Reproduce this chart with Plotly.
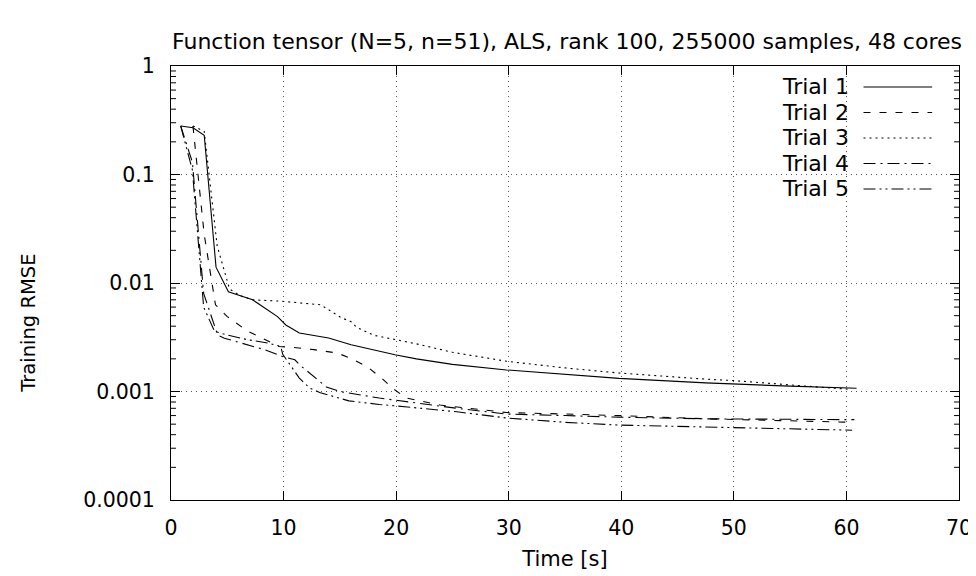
import plotly.graph_objects as go

# ---- data ----
t1 = [0.86, 1.95, 2.95, 4.0, 5.1, 7.25, 9.46, 10.2, 11.4, 14.0, 16.0, 19.9, 21.8, 25.0, 29.8, 35.0, 39.8, 47.5, 50.0, 55.0, 60.9]
y1 = [0.28, 0.27, 0.23, 0.014, 0.0083, 0.0070, 0.0049, 0.0041, 0.00346, 0.00311, 0.0027, 0.00218, 0.0020, 0.00178, 0.00158, 0.00144, 0.00132, 0.0012, 0.00117, 0.00112, 0.00107]

t2 = [1.95, 2.95, 3.95, 5.0, 6.8, 8.6, 9.6, 10.9, 12.7, 14.8, 15.9, 17.4, 18.7, 19.8, 20.9, 23.9, 29.8, 35.0, 39.8, 47.5, 55.0, 60.7]
y2 = [0.28, 0.028, 0.0063, 0.0049, 0.0036, 0.0029, 0.0026, 0.00255, 0.00243, 0.00226, 0.00203, 0.0017, 0.00133, 0.00105, 0.00087, 0.00075, 0.00064, 0.00062, 0.0006, 0.00056, 0.00054, 0.00052]

t3 = [1.95, 2.95, 4.1, 5.2, 6.2, 7.25, 9.75, 12.4, 13.3, 14.2, 15.1, 16.0, 16.5, 18.0, 19.9, 21.8, 25.0, 29.8, 35.0, 39.8, 47.5, 50.0, 55.0, 60.1]
y3 = [0.28, 0.25, 0.022, 0.0088, 0.0076, 0.0070, 0.0068, 0.0065, 0.0063, 0.0055, 0.0048, 0.0044, 0.0039, 0.0033, 0.0030, 0.00275, 0.0023, 0.0019, 0.00165, 0.00148, 0.0013, 0.00126, 0.00115, 0.00105]

t4 = [0.86, 1.9, 2.9, 4.15, 4.74, 8.3, 9.9, 11.0, 11.4, 12.3, 13.2, 13.8, 15.0, 18.5, 25.4, 29.8, 35.0, 39.8, 47.5, 60.7]
y4 = [0.28, 0.13, 0.008, 0.0033, 0.0031, 0.00243, 0.0021, 0.00196, 0.00177, 0.00148, 0.00124, 0.0011, 0.001, 0.00087, 0.0007, 0.00062, 0.0006, 0.00058, 0.00056, 0.00055]

t5 = [0.86, 1.9, 2.9, 3.86, 4.6, 6.8, 8.6, 9.75, 9.93, 11.4, 12.3, 13.2, 15.8, 18.5, 21.0, 25.4, 29.8, 35.0, 39.8, 47.5, 60.5]
y5 = [0.28, 0.11, 0.006, 0.0036, 0.0034, 0.0030, 0.0028, 0.0026, 0.0022, 0.00133, 0.00108, 0.00098, 0.00082, 0.00076, 0.00072, 0.00065, 0.00057, 0.00052, 0.00049, 0.00047, 0.00044]

names = ["Trial 1", "Trial 2", "Trial 3", "Trial 4", "Trial 5"]
dashes = ["solid", "7px,9px", "2px,4px", "12px,5px,2px,5px", "12px,4px,2px,4px,2px,4px"]

x_ticks = [0, 10, 20, 30, 40, 50, 60, 70]
y_minor = [m * 10.0 ** e for e in range(-4, 0) for m in range(2, 10)]

title = "Function tensor (N=5, n=51), ALS, rank 100, 255000 samples, 48 cores"

FONT = "DejaVu Sans"
TICK_FS = 20.5
fig = go.Figure()
series = [(t1, y1), (t2, y2), (t3, y3), (t4, y4), (t5, y5)]
for (t, y), nm, d in zip(series, names, dashes):
    fig.add_trace(go.Scatter(x=t, y=y, mode="lines", name=nm,
                             line=dict(color="black", width=1.1, dash=d),
                             showlegend=False))

L, R, top, bottom = 163, 955, 58, 492
W = R - L
def px(xp):
    return (xp - L) / W
def py(yp):
    return 1 - (yp - top) / (bottom - top)

# minor ticks of the log axis (left and mirrored right), at the axis' minor values
for v in y_minor:
    for x0, x1 in [(0, 5 / W), (1 - 5 / W, 1)]:
        fig.add_shape(type="line", xref="paper", yref="y", x0=x0, x1=x1, y0=v, y1=v,
                      line=dict(color="black", width=1))

# manual gnuplot-style legend: text right-aligned, sample to its right
row_y = [79, 104.5, 130, 155.5, 181]
for i, (nm, d) in enumerate(zip(names, dashes)):
    fig.add_annotation(x=px(846), y=py(row_y[i]), xref="paper", yref="paper",
                       text=nm, showarrow=False, xanchor="right", yanchor="middle",
                       font=dict(family=FONT, size=22, color="black"))
    fig.add_shape(type="line", xref="paper", yref="paper",
                  x0=px(859), x1=px(928), y0=py(row_y[i]), y1=py(row_y[i]),
                  line=dict(color="black", width=1.1, dash=d))
# white box behind legend hides grid
fig.add_shape(type="rect", xref="paper", yref="paper", layer="between",
              x0=px(745), x1=px(948), y0=py(193), y1=py(59.5),
              line=dict(width=0), fillcolor="white")

# y-axis title (gnuplot places it a little below the middle)
fig.add_annotation(x=px(19), y=py(315), xref="paper", yref="paper",
                   text="Training RMSE", textangle=-90, showarrow=False,
                   xanchor="center", yanchor="middle",
                   font=dict(family=FONT, size=19.5, color="black"))

grid = dict(showgrid=True, gridcolor="#555", griddash="1px,4px", gridwidth=1)
frame = dict(showline=True, linecolor="black", linewidth=1, mirror="ticks",
             ticks="inside", tickcolor="black", zeroline=False)

fig.update_layout(
    width=976, height=576,
    margin=dict(l=L, r=976 - R, t=top, b=576 - bottom),
    paper_bgcolor="white", plot_bgcolor="white",
    font=dict(family=FONT, size=TICK_FS, color="black"),
    title=dict(text=title, x=(L + R) / 2 / 976, xanchor="center", y=1 - 33 / 576, yanchor="middle",
               font=dict(family=FONT, size=22, color="black")),
    showlegend=False,
    xaxis=dict(range=[0, 70], tickvals=x_ticks, ticklen=9, ticklabelstandoff=9,
               tickfont=dict(size=TICK_FS),
               title=dict(text="Time [s]", standoff=12, font=dict(size=21)),
               **grid, **frame),
    yaxis=dict(type="log", range=[-4, 0], tickmode="linear", tick0=0, dtick=1,
               tickformat="~g", ticklen=9, ticklabelstandoff=11, tickfont=dict(size=TICK_FS),
               **grid, **frame),
)

fig.write_html("out.html")
